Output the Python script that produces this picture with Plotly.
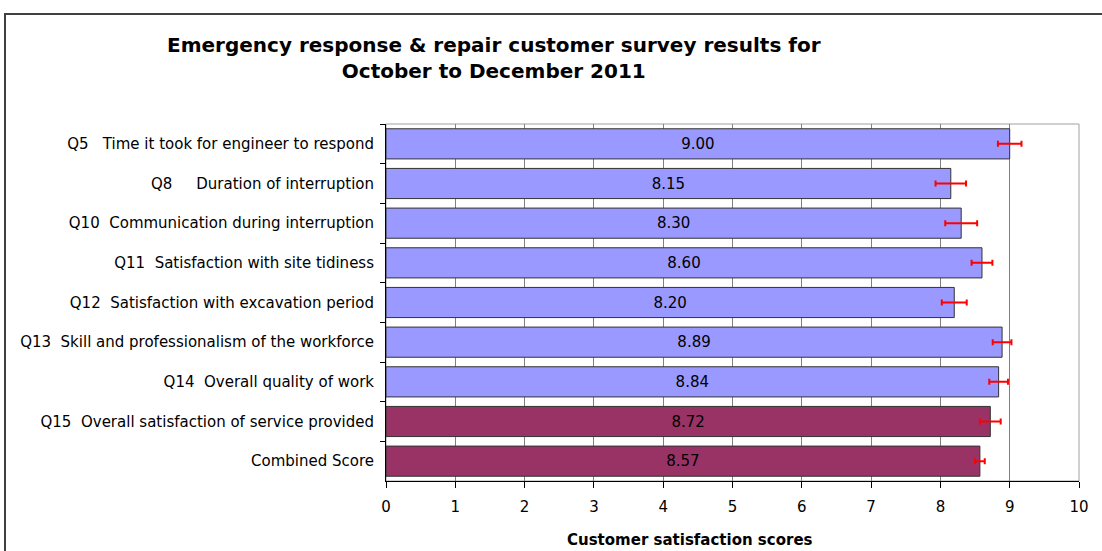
import plotly.graph_objects as go

NB = "\u00a0"
categories = [
    "Q5" + NB*3 + "Time it took for engineer to respond",
    "Q8" + NB*5 + "Duration of interruption",
    "Q10" + NB*2 + "Communication during interruption",
    "Q11" + NB*2 + "Satisfaction with site tidiness",
    "Q12" + NB*2 + "Satisfaction with excavation period",
    "Q13" + NB*2 + "Skill and professionalism of the workforce",
    "Q14" + NB*2 + "Overall quality of work",
    "Q15" + NB*2 + "Overall satisfaction of service provided",
    "Combined Score",
]
scores = [9.00, 8.15, 8.30, 8.60, 8.20, 8.89, 8.84, 8.72, 8.57]
errors = [0.17, 0.22, 0.23, 0.15, 0.18, 0.135, 0.135, 0.15, 0.07]
bar_colors = ["#9999FF"] * 7 + ["#993366"] * 2
x_ticks = [0, 1, 2, 3, 4, 5, 6, 7, 8, 9, 10]

fig = go.Figure()
fig.add_trace(go.Bar(
    y=categories,
    x=scores,
    orientation="h",
    marker=dict(color=bar_colors, line=dict(color="#333333", width=1)),
    text=[f"{v:.2f}" for v in scores],
    textposition="inside",
    insidetextanchor="middle",
    textfont=dict(family="DejaVu Sans", size=15, color="#000000"),
    error_x=dict(type="data", array=errors, visible=True, color="#FF0000", thickness=2, width=3),
    hoverinfo="skip",
))

fig.update_layout(
    width=1102, height=551,
    margin=dict(l=386, r=23, t=124, b=70),
    paper_bgcolor="white",
    plot_bgcolor="white",
    bargap=0.24,
    showlegend=False,
    font=dict(family="DejaVu Sans", size=15, color="#000000"),
)

fig.update_xaxes(
    range=[0, 10],
    tickvals=x_ticks,
    ticktext=[str(t) for t in x_ticks],
    showgrid=True, gridcolor="#808080", gridwidth=1,
    showline=True, linecolor="#000000", linewidth=1,
    ticks="outside", ticklen=6, tickcolor="#000000",
    tickfont=dict(family="DejaVu Sans", size=15),
    ticklabelstandoff=6,
    zeroline=False,
    automargin=False,
)
fig.update_yaxes(
    autorange="reversed",
    tickson="boundaries",
    ticks="outside", ticklen=5, tickcolor="#000000",
    showline=True, linecolor="#000000", linewidth=1,
    showgrid=False,
    tickfont=dict(family="DejaVu Sans", size=15),
    ticklabelstandoff=8,
    automargin=False,
)

# plot area border (top/right)
fig.add_shape(type="rect", xref="paper", yref="paper", x0=0, x1=1, y0=0, y1=1,
              line=dict(color="#A0A0A0", width=1), layer="below")
# outer chart border
fig.add_shape(type="rect", xref="paper", yref="paper",
              x0=(5 - 386) / 693, x1=2, y0=-1, y1=(481 - 14) / 357,
              line=dict(color="#404040", width=2))

fig.add_annotation(
    xref="paper", yref="paper",
    x=(494 - 386) / 693, y=(481 - 58) / 357,
    text="<b>Emergency response & repair customer survey results for<br>October to December 2011</b>",
    showarrow=False, xanchor="center", yanchor="middle",
    font=dict(family="DejaVu Sans", size=20, color="#000000"),
)
fig.add_annotation(
    xref="paper", yref="paper",
    x=(690 - 386) / 693, y=(481 - 540) / 357,
    text="<b>Customer satisfaction scores</b>",
    showarrow=False, xanchor="center", yanchor="middle",
    font=dict(family="DejaVu Sans", size=15, color="#000000"),
)

fig.write_html("out.html", config={"displayModeBar": False},
               post_script="document.body.style.margin='0';")
